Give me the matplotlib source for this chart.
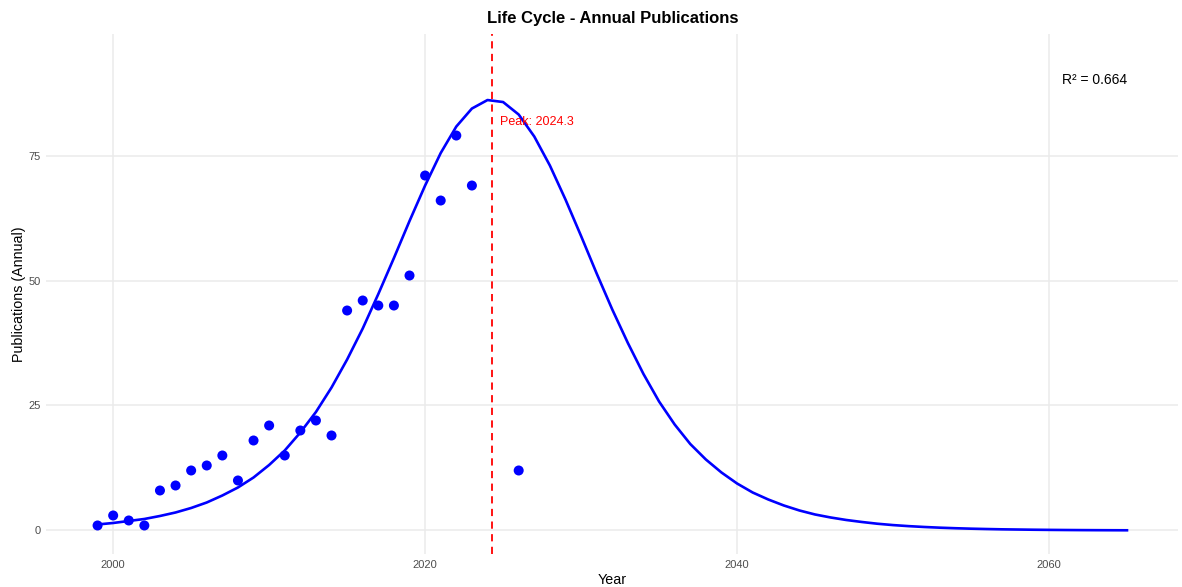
import matplotlib
matplotlib.use("Agg")
import matplotlib.pyplot as plt

plt.rcParams["font.family"] = ["Liberation Sans", "DejaVu Sans"]

# observed annual publications
years = [1999, 2000, 2001, 2002, 2003, 2004, 2005, 2006, 2007, 2008,
         2009, 2010, 2011, 2012, 2013, 2014, 2015, 2016, 2017, 2018,
         2019, 2020, 2021, 2022, 2023, 2026]
pubs = [1, 3, 2, 1, 8, 9, 12, 13, 15, 10,
        18, 21, 15, 20, 22, 19, 44, 46, 45, 45,
        51, 71, 66, 79, 69, 12]

# fitted life-cycle curve at each year 1999..2065
fit_years = list(range(1999, 2066))
fit_values = [
    1.2, 1.5, 1.9, 2.3, 2.9, 3.6, 4.5, 5.6, 7.0, 8.6,
    10.6, 13.1, 16.0, 19.6, 23.7, 28.6, 34.2, 40.4, 47.3, 54.5,
    61.9, 69.0, 75.5, 80.8, 84.4, 86.1, 85.7, 83.2, 78.8, 73.0,
    66.2, 58.9, 51.4, 44.2, 37.5, 31.3, 25.8, 21.2, 17.3, 14.2,
    11.6, 9.4, 7.6, 6.2, 5.0, 4.0, 3.2, 2.6, 2.1, 1.7,
    1.35, 1.08, 0.87, 0.70, 0.56, 0.45, 0.36, 0.29, 0.23, 0.19,
    0.15, 0.12, 0.095, 0.076, 0.061, 0.049, 0.039,
]

peak_year = 2024.3
r_squared = 0.664

fig = plt.figure(figsize=(11.82, 5.87), dpi=100)
ax = fig.add_axes([0.039, 0.056, 0.958, 0.886])

ax.plot(fit_years, fit_values, color="#0000ff", lw=1.9, zorder=3)
ax.scatter(years, pubs, s=52, color="#0000ff", edgecolors="none", zorder=4)
ax.axvline(peak_year, color="#ff0000", lw=1.3, ls=(0, (4, 3)), zorder=2)

ax.text(peak_year + 0.5, 81.7, f"Peak: {peak_year}", color="#ff0000",
        fontsize=9, ha="left", va="center")
ax.text(2062.9, 90.2, f"R² = {r_squared}", color="black",
        fontsize=10, ha="center", va="center")

ax.set_xlim(1995.7, 2068.3)
ax.set_ylim(-4.73, 99.3)
ax.set_xticks([2000, 2020, 2040, 2060])
ax.set_yticks([0, 25, 50, 75])

for side in ax.spines.values():
    side.set_visible(False)
ax.grid(True, color="#ebebeb", lw=1.1)
ax.set_axisbelow(True)
ax.tick_params(length=0, labelsize=8, labelcolor="#4d4d4d", pad=4)

ax.set_xlabel("Year", fontsize=10.3)
ax.set_ylabel("Publications (Annual)", fontsize=10.3)
ax.xaxis.set_label_coords(0.5, -0.036)
ax.yaxis.set_label_coords(-0.0176, 0.5)
ax.set_title("Life Cycle - Annual Publications", fontsize=12,
             fontweight="bold", pad=8)

fig.savefig("out.png", dpi=100)
